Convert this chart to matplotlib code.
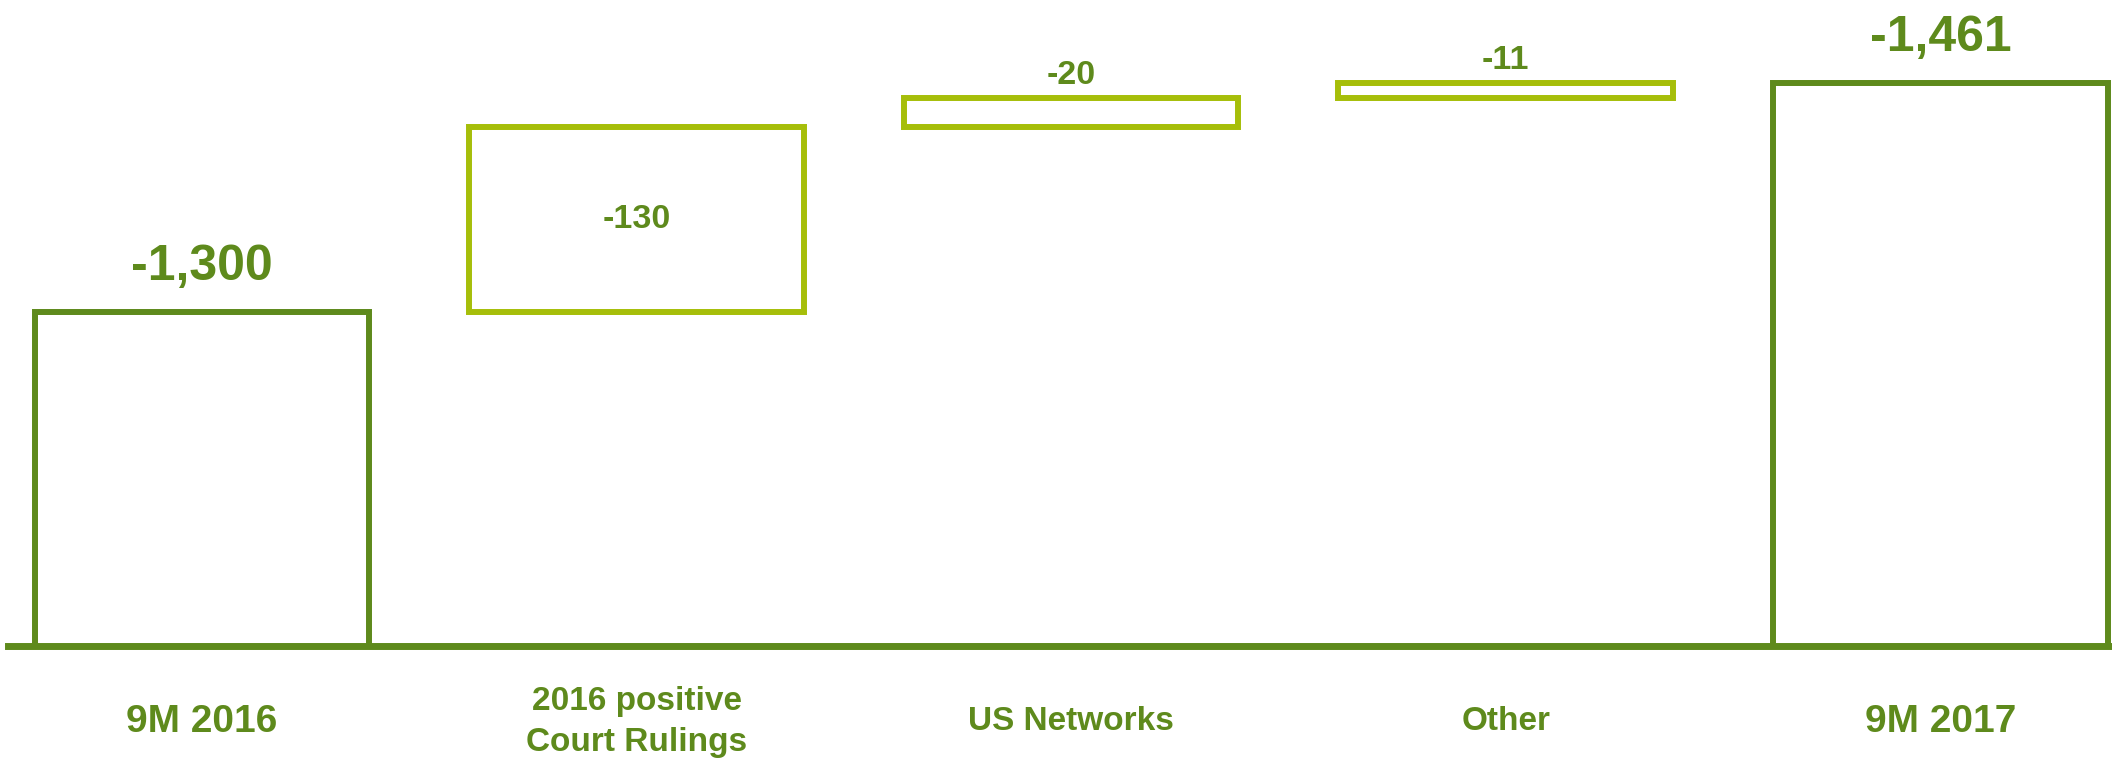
import numpy as np
import matplotlib.pyplot as plt

plt.rcParams['font.family'] = ['Liberation Sans', 'DejaVu Sans']
plt.rcParams['font.weight'] = 'bold'

categories = ['9M 2016', '2016 positive\nCourt Rulings', 'US Networks', 'Other', '9M 2017']
values = [-1300, -130, -20, -11, -1461]
is_total = [True, False, False, False, True]

dark = '#5E8A1C'
light = '#A6BE0A'

# waterfall: totals start at zero, steps hang off the running sum
bottoms = []
running = 0
for v, tot in zip(values, is_total):
    if tot:
        bottoms.append(0)
        running = v
    else:
        bottoms.append(running)
        running += v
colors = [dark if t else light for t in is_total]

fig = plt.figure(figsize=(21.12, 7.58), dpi=100)
ax = fig.add_axes([8 / 2112, 112.5 / 758, 1 - 8 / 2112, 645.5 / 758])

x = np.arange(len(values))
ax.bar(x, values, bottom=bottoms, width=0.77, facecolor='none',
       edgecolor=colors, linewidth=4.3, joinstyle='miter')

ax.set_xlim(-0.4464, 4.395)
ax.set_ylim(-1066, -1519)   # negative values drawn upwards

for s in ['top', 'left', 'right']:
    ax.spines[s].set_visible(False)
ax.spines['bottom'].set_color(dark)
ax.spines['bottom'].set_linewidth(5)
ax.set_xticks([])
ax.set_yticks([])

for i, (v, b, tot) in enumerate(zip(values, bottoms, is_total)):
    txt = f'{v:,}'
    if tot:
        ax.annotate(txt, (i, v), xytext=(0, 23), textcoords='offset points',
                    ha='center', va='baseline', fontsize=36, color=dark)
    else:
        y0 = ax.transData.transform((i, b))[1]
        y1 = ax.transData.transform((i, b + v))[1]
        if abs(y1 - y0) > 45:
            ax.text(i, b + v / 2, txt, ha='center', va='center',
                    fontsize=24.5, color=dark)
        else:
            ax.annotate(txt, (i, b + v), xytext=(0, 10), textcoords='offset points',
                        ha='center', va='baseline', fontsize=24.5, color=dark)

for i, (cat, tot) in enumerate(zip(categories, is_total)):
    ax.annotate(cat, (i, 0), xycoords=('data', 'axes fraction'),
                xytext=(0, -55), textcoords='offset points',
                ha='center', va='center', fontsize=28 if tot else 24,
                linespacing=1.4, color=dark, annotation_clip=False)

fig.savefig('out.png', dpi=100)
